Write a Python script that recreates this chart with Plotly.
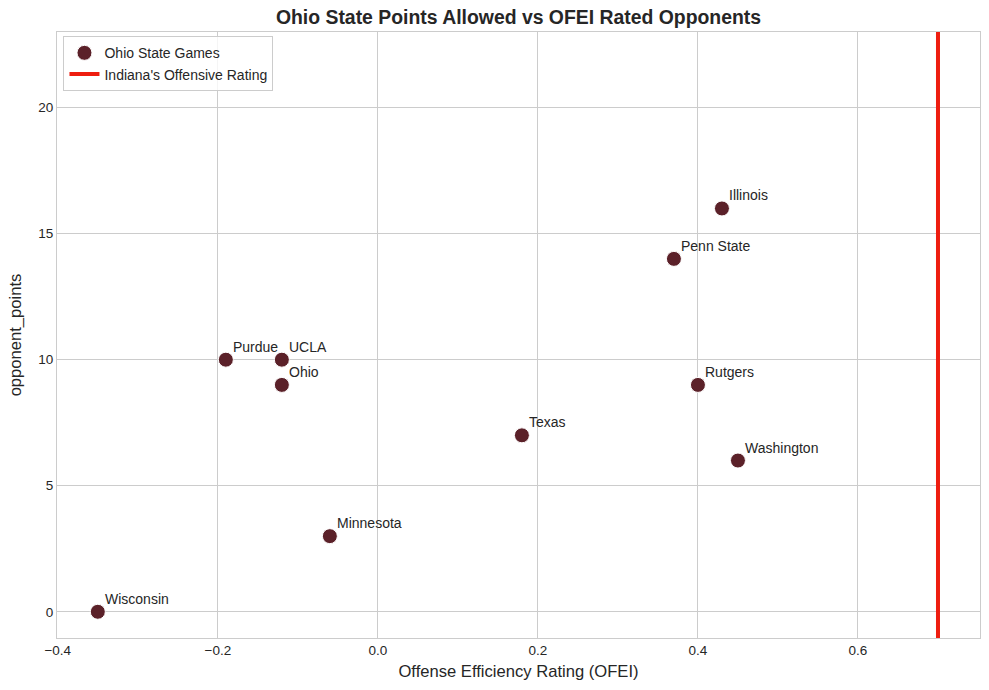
import plotly.graph_objects as go

teams = ["Wisconsin", "Minnesota", "Purdue", "UCLA", "Ohio", "Texas",
         "Penn State", "Illinois", "Rutgers", "Washington"]
ofei = [-0.35, -0.06, -0.19, -0.12, -0.12, 0.18, 0.37, 0.43, 0.40, 0.45]
opponent_points = [0, 3, 10, 10, 9, 7, 14, 16, 9, 6]
indiana_rating = 0.70

X_RANGE = [-0.401, 0.7525]
Y_RANGE = [-1.04, 23.0]
FONT = "Arial, Liberation Sans, sans-serif"
POINT_COLOR = "#5b2129"
LINE_COLOR = "#ee1d0f"
GRID = "#cccccc"

fig = go.Figure()
fig.add_trace(go.Scatter(
    x=ofei, y=opponent_points, mode="markers", name="Ohio State Games",
    marker=dict(size=15, color=POINT_COLOR, line=dict(color="white", width=1)),
))
fig.add_trace(go.Scatter(
    x=[indiana_rating, indiana_rating], y=Y_RANGE, mode="lines",
    name="Indiana's Offensive Rating",
    line=dict(color=LINE_COLOR, width=4),
))

for t, xv, yv in zip(teams, ofei, opponent_points):
    fig.add_annotation(x=xv, y=yv, text=t, showarrow=False,
                       xanchor="left", yanchor="bottom", xshift=5, yshift=3,
                       font=dict(family=FONT, size=14, color="#262626"))

axis_common = dict(showgrid=True, gridcolor=GRID, gridwidth=1, zeroline=False,
                   showline=True, linecolor=GRID, linewidth=1, mirror=True,
                   ticks="", tickfont=dict(family=FONT, size=13.5, color="#262626"))

fig.update_layout(
    width=989, height=690,
    margin=dict(l=57, r=9, t=32, b=52),
    paper_bgcolor="white", plot_bgcolor="white",
    title=dict(text="<b>Ohio State Points Allowed vs OFEI Rated Opponents</b>",
               x=0.5, xref="paper", y=0.975, yanchor="middle",
               font=dict(family=FONT, size=19.4, color="#262626")),
    xaxis=dict(range=X_RANGE, tickvals=[-0.4, -0.2, 0.0, 0.2, 0.4, 0.6],
               ticktext=["\u22120.4", "\u22120.2", "0.0", "0.2", "0.4", "0.6"],
               title=dict(text="Offense Efficiency Rating (OFEI)", standoff=8,
                          font=dict(family=FONT, size=16.6, color="#262626")),
               **axis_common),
    yaxis=dict(range=Y_RANGE, tickvals=[0, 5, 10, 15, 20],
               title=dict(text="opponent_points", standoff=12,
                          font=dict(family=FONT, size=16.6, color="#262626")),
               **axis_common),
    legend=dict(x=0.007, y=0.993, xanchor="left", yanchor="top",
                bgcolor="rgba(255,255,255,0.8)", bordercolor=GRID, borderwidth=1,
                font=dict(family=FONT, size=14, color="#262626"),
                itemwidth=30, tracegroupgap=0),
    showlegend=True,
)

fig.write_html("out.html")
